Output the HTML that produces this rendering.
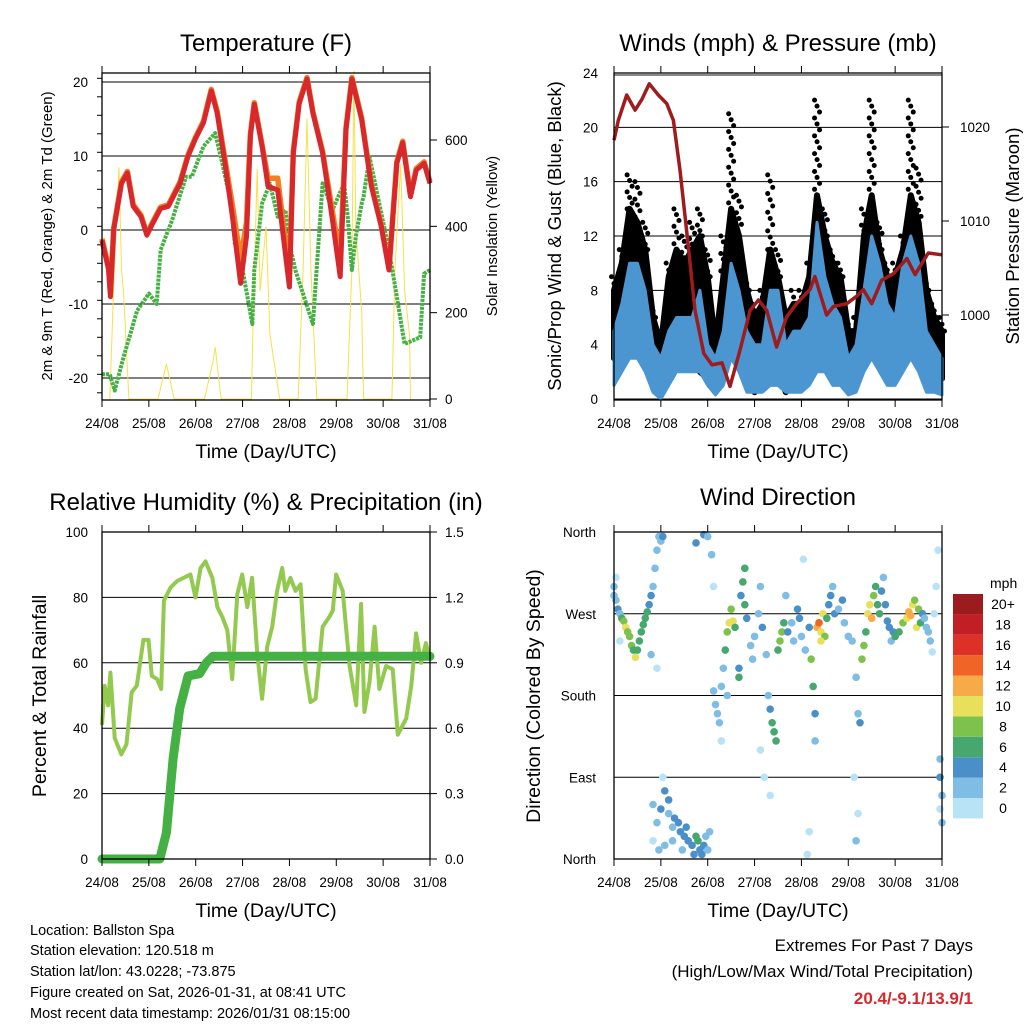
<!DOCTYPE html>
<html><head><meta charset="utf-8">
<style>
html,body{margin:0;padding:0;background:#fff;}
svg{display:block;font-family:"Liberation Sans",Arial,sans-serif;}
</style></head>
<body>
<svg id="chart" width="1024" height="1024" viewBox="0 0 1024 1024" xmlns="http://www.w3.org/2000/svg">
<rect width="1024" height="1024" fill="#fff"/>
<g id="g-temp"></g>
<g id="g-wind"></g>
<g id="g-rh"></g>
<g id="g-dir"></g>
<g id="g-text">
<text x="30" y="935" font-size="14.5">Location: Ballston Spa</text>
<text x="30" y="955" font-size="14.5">Station elevation: 120.518 m</text>
<text x="30" y="976" font-size="14.5">Station lat/lon: 43.0228; -73.875</text>
<text x="30" y="997" font-size="14.5">Figure created on Sat, 2026-01-31, at 08:41 UTC</text>
<text x="30" y="1018" font-size="14.5">Most recent data timestamp: 2026/01/31 08:15:00</text>
<text x="973" y="951" font-size="17" text-anchor="end">Extremes For Past 7 Days</text>
<text x="973" y="977" font-size="17" text-anchor="end">(High/Low/Max Wind/Total Precipitation)</text>
<text x="973" y="1004" font-size="17" font-weight="bold" fill="#d7282e" text-anchor="end">20.4/-9.1/13.9/1</text>
</g>
</svg>
<script>
// ---------- data ----------
const dayLabels=["24/08","25/08","26/08","27/08","28/08","29/08","30/08","31/08"];
const tempHours=[0,3.4,4.3,6,10,13,16,20,23,26,30,34,40,44,48,52,56,59,63,67,71,74,76,78,82,85,90,96,98,101,105,108,113,118,122,125,128,133,138,143,147,151,154,158,161,165,168];
const tempRed=[-1.4,-5.4,-9,0,6.3,7.7,3.2,1.8,-0.7,0.9,2.9,3.2,6.3,9.9,12.4,14.5,18.8,15.8,9,1.4,-7.2,-0.9,12.7,17,11.3,5.9,5.4,-7.7,10.4,17.1,20.4,15.8,10.4,1.4,-6.3,13.6,20.4,14.9,5.9,0.5,-5.4,9,11.8,4.5,8.1,9,6.3];
const tempOrange=[-1.2,-5,-8.5,0.3,6.5,7.9,3.4,2,-0.5,1.1,3.1,3.4,6.5,10.1,12.6,14.7,19,16,9.5,3,-4,1,13,17.2,11.5,7,7,-6,10.6,17.3,20.6,16,10.6,2.5,-4,13.8,20.6,15.1,6.1,0.7,-5.2,9.2,12,4.7,8.3,9.2,6.5];
const tdHours=[0,4,6.5,11,18,24,28,30,36,43,46,52,58,62,66,68,72,77,78,82,86,90,94,96,99,108,113,118,124,126,128,130,133,134,137,142,147,151,155,163,165,168];
const tdGreen=[-19.5,-19.5,-21.7,-17.2,-10.9,-8.6,-10,-2.7,1.4,7.2,7.2,11.3,13.1,8.6,3.6,-1.8,-5.4,-12.7,-5.4,3.6,6.3,1.8,2.7,-1.8,-5.4,-12.7,6.3,2.7,6.3,1.4,-5.4,-0.9,3.6,4.5,9.9,3.6,-2.7,-9,-15.4,-14.5,-5.9,-5.4,-0.9,-4.1];
const solarHours=[4,6,8.7,10,11,13.8,28.7,33,37,37.5,52.5,57,58,61,64,76.5,77.5,79.5,81,84,86,91,100.5,103,105,107,110,125.5,128,129,130,133,134,148.5,150,153,155,157.5,158];
const solarVals=[0,260,537,300,250,0,0,81,0,0,0,90,120,0,0,0,200,533,250,400,150,0,0,300,650,300,0,0,300,760,400,200,0,0,300,544,250,150,0];
const windHours=[0,4,8,12,16,20,24,28,32,36,40,44,48,52,56,60,64,68,72,76,80,84,88,92,96,100,104,108,112,116,120,124,128,132,136,140,144,148,152,156,160,164,168];
const gustLow=[3,4,5,5,4,1.5,0.5,3,3,3,3,2,1.5,0.5,2,5,4,1.5,0.5,1.5,3,2,0.5,1.5,1.5,3,4,4,3,2,0.5,1.5,4,5,4,2,3,3,5,4,1.5,1.5,1.5];
const gustHigh=[8,10,14,13,11,6,4,9,11,10,11,12,9,4,9,14,12,8,6,7,11,9,6,7,7,9,15,12,10,9,5,5,12,15,11,9,9,11,15,13,8,6,5];
const gustMax=[9,11,16.5,16,13,7,5,10,14,12,13,14,11,5,12,21,15,9,7,8,16.5,11,7,8,8,10,22,14,11,10,6,6,14,22,13,10,10,12,22,17,9,7,6];
const sonicLow=[1,2,3,3,2,0.5,0,1,2,2,2,2,1,0.3,1,3,2,0.5,0.5,0.5,1,1,0.5,0.5,0.5,1,2,2,1,1,0.3,0.5,2,3,2,1,1,2,3,2,0.5,0.5,0.3];
const sonicHigh=[5,7,10,10,8,4,3,5,6,6,6,8,4,3,5,10,8,5,4,4,8,8,4,5,5,6,13,9,7,6,3,4,8,12,10,7,6,10,12,10,5,4,3];
const presHours=[0,2.2,6.5,10.8,14.2,18.1,22.7,27,30.4,33.8,37.2,41.5,46,50.2,55.3,59.4,64.6,69.7,74,78.2,83.3,88.4,93.5,100.4,102.9,108.9,112.4,119.2,124.3,127.7,132,137.1,143.1,150,154.2,161,168];
const pressure=[1018.6,1020.7,1023.4,1021.8,1022.9,1024.6,1023.4,1022.5,1020.7,1015.4,1009,1000.5,995.9,994.7,994.9,992.4,996.3,1000.5,1001.6,1000.5,996.6,999.8,1001.2,1002.7,1004.1,1000,1000.9,1001.2,1002,1002.7,1001.2,1003.7,1004.4,1006,1004.3,1006.6,1006.4];
const rhHours=[0,1.4,3.1,4.3,6.5,9.9,12.5,15.2,17.8,21.2,23.8,25.5,28.2,30.3,31.7,35.1,38.5,45.3,47.9,50.5,53,56.5,59.1,61.6,64.2,66.7,69.3,71.8,74.4,76.9,79.5,82,84.6,87.2,89.7,92.3,93.9,96.5,99.1,101.7,104.3,106.8,109.4,113,116.4,118.2,119.9,123.3,126.8,130.2,132.7,134.4,137,139.6,142.1,145.5,148.9,151.5,155.8,158.4,160.9,163.5,165.9,168];
const rhVals=[41,53,47,57,37,32,35,51,53,67,67,56,55,52,79,83,85,87,80,89,91,86,77,74,70,55,81,87,77,86,63,49,65,71,82,89,82,86,82,84,58,48,49,71,74,76,87,82,59,47,78,45,54,71,52,59,58,38,43,53,69,60,66,61];
const precipHours=[0,29.6,33,36.4,39.8,44.1,50,53.4,56.8,168];
const precipVals=[0,0,0.12,0.46,0.69,0.84,0.85,0.9,0.93,0.93];
const dirHours=[0,0,1,2,3,4,5,6,7,8,9,10,11,12,13,14,15,16,17,18,19,20,21,22,23,24,25,19,22,3,1,42,46,48,50,51,
20,22,24,26,28,28,30,31,33,34,36,37,38,40,42,43,44,45,46,47,48,49,20,23,26,30,35,41,25,
51,52,53,54,55,56,57,58,59,60,61,62,64,64,65,66,67,67,68,55,58,
70,71,72,74,75,76,78,79,80,81,82,83,84,85,86,87,88,77,75,80,
89,91,92,94,95,96,98,100,101,102,103,103,99,100,97,
104,105,106,107,108,106,109,110,111,112,
113,115,117,118,120,122,124,125,126,123,125,124,
127,128,129,130,131,132,133,134,135,136,137,138,139,140,141,142,143,
144,146,148,150,151,152,153,154,155,156,157,158,
159,160,161,162,163,164,165,166,167,167,168,168,167];
const dirVals=[300,290,285,275,270,265,262,255,250,245,235,230,222,230,240,250,258,265,272,280,290,300,320,340,355,350,355,225,210,240,310,348,357,355,335,300,
60,40,55,75,65,50,35,45,40,30,25,35,20,15,25,20,10,5,15,25,10,30,20,10,15,20,10,5,90,
185,170,160,150,190,210,230,250,260,275,262,255,200,210,290,305,320,280,265,130,180,
235,220,245,270,300,255,225,180,165,150,140,130,230,240,250,260,290,90,120,70,
250,260,240,275,265,245,230,255,220,190,160,130,5,30,330,
255,260,250,270,245,240,265,280,290,300,
270,275,285,260,245,240,200,160,150,90,50,20,
220,235,250,270,280,265,290,300,280,270,295,310,280,262,255,240,250,
245,250,260,265,272,268,280,285,255,275,260,270,
265,255,250,240,228,270,300,340,110,90,70,40,55];
const dirSpeeds=[2,3,3,4,3,6,9,10,8,9,8,7,10,7,7,6,6,6,6,5,4,3,2,2,2,3,4,2,1,1,1,4,4,2,2,1,
2,3,4,4,4,3,3,4,4,4,4,5,4,4,6,6,5,4,4,3,2,2,1,2,3,2,3,4,1,
2,2,2,2,2,3,6,8,10,9,11,6,6,5,5,7,6,7,4,1,2,
2,2,3,2,2,4,2,3,4,6,6,6,7,8,9,7,3,1,1,1,
4,3,3,4,4,3,2,4,8,6,4,3,1,1,1,
12,14,11,10,8,10,7,4,4,3,
4,3,4,3,2,2,2,3,4,1,1,2,
8,9,7,10,11,12,9,6,7,6,4,3,4,4,4,3,5,
6,7,8,10,12,13,10,9,11,8,6,5,
3,2,2,2,1,1,1,1,3,4,3,2,1];
const speedColors=["#b8e3f6","#7fbde5","#4a8fc8","#46a86f","#7cc24b","#e8e05a","#f8a948","#f06428","#dd3127","#c11e26","#9c1b1f"];
const speedLabels=["0","2","4","6","8","10","12","14","16","18","20+"];

// ---------- helpers ----------
const NS="http://www.w3.org/2000/svg";
function mk(parent,tag,attrs,txt){const e=document.createElementNS(NS,tag);for(const k in attrs)e.setAttribute(k,attrs[k]);if(txt!==undefined)e.textContent=txt;parent.appendChild(e);return e;}
function lin(d0,d1,r0,r1){return v=>r0+(v-d0)*(r1-r0)/(d1-d0);}
function pathOf(xs,ys,fx,fy){return xs.map((x,i)=>(i?"L":"M")+fx(x).toFixed(1)+","+fy(ys[i]).toFixed(1)).join("");}
function bandOf(xs,lo,hi,fx,fy){let d=xs.map((x,i)=>(i?"L":"M")+fx(x).toFixed(1)+","+fy(hi[i]).toFixed(1)).join("");for(let i=xs.length-1;i>=0;i--)d+="L"+fx(xs[i]).toFixed(1)+","+fy(lo[i]).toFixed(1);return d+"Z";}

function frame(g,L,T,R,B,fx){
  dayLabels.forEach((lab,i)=>{
    const x=fx(i*24);
    const t=mk(g,"line",{x1:x,x2:x,y1:B,y2:B+7,stroke:"#000","stroke-width":1});
    
    
    const t2=mk(g,"line",{x1:x,x2:x,y1:T,y2:T-7,stroke:"#000","stroke-width":1});
    
    
    const tl=mk(g,"text",{x:x,y:B+28,"font-size":13.5,"text-anchor":"middle"},lab);
    
    
  });
  const xt=mk(g,"text",{x:(L+R)/2,y:B+58,"font-size":19.5,"text-anchor":"middle"},"Time (Day/UTC)");
  
  
}
function box(g,L,T,R,B){
  const r=mk(g,"rect",{x:L,y:T,width:R-L,height:B-T,fill:"none",stroke:"#000","stroke-width":1.3});
  
  
}
function grid(g,L,R,y){
  const l=mk(g,"line",{x1:L,x2:R,y1:y,y2:y,stroke:"#000","stroke-width":1});
  
  
}
function yLabel(g,x,y,txt,anchor,name){
  const t=mk(g,"text",{x:x,y:y+5,"font-size":13.5,"text-anchor":anchor},txt);
  
  
}
function rotTitle(g,x,y,txt,size,name){
  const t=mk(g,"text",{x:0,y:0,"font-size":size,"text-anchor":"middle",transform:`translate(${x},${y}) rotate(-90)`},txt);
  
  
}
function title(g,x,y,txt,name){
  const t=mk(g,"text",{x:x,y:y,"font-size":24,"text-anchor":"middle"},txt);
  
  
}

// ---------- temperature ----------
(function(){
  const g=document.getElementById("g-temp");
  const L=102,R=430,T=73,B=400;
  const fx=lin(0,168,L,R), fy=lin(0,20,230,82), fs=lin(0,600,399,140);
  title(g,266,51,"Temperature (F)","temperature-title");
  [-20,-10,0,10,20].forEach(v=>{grid(g,L,R,fy(v));yLabel(g,88,fy(v),String(v),"end","temp-y-tick-label");});
  for(let v=-22;v<=22;v+=2.5){const l=mk(g,"line",{x1:L-5,x2:L,y1:fy(v),y2:fy(v),stroke:"#000"});}
  [0,200,400,600].forEach(v=>{const l=mk(g,"line",{x1:R,x2:R+7,y1:fs(v),y2:fs(v),stroke:"#000"});yLabel(g,445,fs(v),String(v),"start","solar-y-tick-label");});
  const sp=mk(g,"path",{d:pathOf(solarHours,solarVals,fx,fs),fill:"none",stroke:"#f7e04a","stroke-width":1});
  
  
  const gp=mk(g,"path",{d:pathOf(tdHours,tdGreen,fx,fy),fill:"none",stroke:"#45b043","stroke-width":4,"stroke-dasharray":"3 1","stroke-linejoin":"round"});
  
  
  const op=mk(g,"path",{d:pathOf(tempHours,tempOrange,fx,fy),fill:"none",stroke:"#f47f20","stroke-width":5.5,"stroke-linejoin":"round"});
  
  
  const rp=mk(g,"path",{d:pathOf(tempHours,tempRed,fx,fy),fill:"none",stroke:"#d7282e","stroke-width":5,"stroke-linejoin":"round"});
  
  
  box(g,L,T,R,B);
  frame(g,L,T,R,B,fx);
  rotTitle(g,52,236,"2m & 9m T (Red, Orange) & 2m Td (Green)",15,"temp-y-axis-title");
  rotTitle(g,497,236,"Solar Insolation (Yellow)",15,"solar-y-axis-title");
})();

// ---------- winds ----------
(function(){
  const g=document.getElementById("g-wind");
  const L=614,R=942,T=73,B=400;
  const fx=lin(0,168,L,R), fy=lin(0,24,399,73), fp=lin(1000,1020,315,127);
  title(g,778,51,"Winds (mph) & Pressure (mb)","winds-title");
  [0,4,8,12,16,20,24].forEach(v=>{grid(g,L,R,fy(v));yLabel(g,598,fy(v),String(v),"end","wind-y-tick-label");});
  const gl=mk(g,"line",{x1:L,x2:R,y1:fy(24)+2,y2:fy(24)+2,stroke:"#888","stroke-width":2});
  
  
  [1000,1010,1020].forEach(v=>{const l=mk(g,"line",{x1:R,x2:R+7,y1:fp(v),y2:fp(v),stroke:"#000"});yLabel(g,960,fp(v),String(v),"start","pressure-y-tick-label");});
  const gb=mk(g,"path",{d:bandOf(windHours,gustLow,gustHigh,fx,fy),fill:"#000",stroke:"#000","stroke-width":6,"stroke-linejoin":"round"});
  
  
  windHours.forEach((h,i)=>{
    const top=fy(gustMax[i]), hi=fy(gustHigh[i]);
    const n=Math.max(1,Math.round((hi-top)/6));
    for(let k=0;k<=n;k++){
      const c=mk(g,"circle",{cx:fx(h)+((k%3)-1)*2.5,cy:top+(hi-top)*k/n,r:2.5,fill:"#000"});
      
      
    }
  });
  const sb=mk(g,"path",{d:bandOf(windHours,sonicLow,sonicHigh,fx,fy),fill:"#4b96d1",stroke:"#4b96d1","stroke-width":3,"stroke-linejoin":"round"});
  
  
  const pp=mk(g,"path",{d:pathOf(presHours,pressure,fx,fp),fill:"none",stroke:"#9e1b1e","stroke-width":3.5,"stroke-linejoin":"round"});
  
  
  box(g,L,T,R,B);
  frame(g,L,T,R,B,fx);
  rotTitle(g,561,236,"Sonic/Prop Wind & Gust (Blue, Black)",18.5,"wind-y-axis-title");
  rotTitle(g,1019,236,"Station Pressure (Maroon)",18.5,"pressure-y-axis-title");
})();

// ---------- humidity ----------
(function(){
  const g=document.getElementById("g-rh");
  const L=102,R=430,T=532,B=859;
  const fx=lin(0,168,L,R), fy=lin(0,100,859,532), fr=lin(0,1.5,859,532);
  title(g,266,510,"Relative Humidity (%) & Precipitation (in)","humidity-title");
  [0,20,40,60,80,100].forEach(v=>{grid(g,L,R,fy(v));yLabel(g,88,fy(v),String(v),"end","rh-y-tick-label");});
  ["0.0","0.3","0.6","0.9","1.2","1.5"].forEach(s=>{const v=parseFloat(s);const l=mk(g,"line",{x1:R,x2:R+7,y1:fr(v),y2:fr(v),stroke:"#000"});yLabel(g,445,fr(v),s,"start","precip-y-tick-label");});
  const rp=mk(g,"path",{d:pathOf(rhHours,rhVals,fx,fy),fill:"none",stroke:"#93c94f","stroke-width":4,"stroke-linejoin":"round"});
  
  
  const pp=mk(g,"path",{d:pathOf(precipHours,precipVals,fx,fr),fill:"none",stroke:"#45b043","stroke-width":9,"stroke-linejoin":"round","stroke-linecap":"round"});
  
  
  box(g,L,T,R,B);
  frame(g,L,T,R,B,fx);
  rotTitle(g,46,696,"Percent & Total Rainfall",19.5,"rh-y-axis-title");
})();

// ---------- wind direction ----------
(function(){
  const g=document.getElementById("g-dir");
  const L=614,R=942,T=532,B=859;
  const fx=lin(0,168,L,R), fy=lin(0,360,859,532);
  title(g,778,505,"Wind Direction","direction-title");
  [[0,"North"],[90,"East"],[180,"South"],[270,"West"],[360,"North"]].forEach(([v,s])=>{grid(g,L,R,fy(v));yLabel(g,596,fy(v),s,"end","direction-y-tick-label");});
  dirHours.forEach((h,i)=>{
    const idx=Math.max(0,Math.min(10,Math.floor(dirSpeeds[i]/2)));
    const c=mk(g,"circle",{cx:fx(h),cy:fy(dirVals[i]),r:3.8,fill:speedColors[idx]});
    
    
  });
  box(g,L,T,R,B);
  frame(g,L,T,R,B,fx);
  rotTitle(g,540,696,"Direction (Colored By Speed)",19.5,"direction-y-axis-title");
  const cb=mk(g,"g",{});
  
  
  const lt=mk(cb,"text",{x:990,y:588,"font-size":14,"text-anchor":"start"},"mph");
  
  
  speedLabels.forEach((s,i)=>{
    const y=594+(10-i)*20.4;
    const r=mk(cb,"rect",{x:953,y:y,width:30,height:20.4,fill:speedColors[i]});
    
    
    const t=mk(cb,"text",{x:1003,y:y+15,"font-size":14,"text-anchor":"middle"},s);
    
    
  });
})();
</script>
</body></html>
